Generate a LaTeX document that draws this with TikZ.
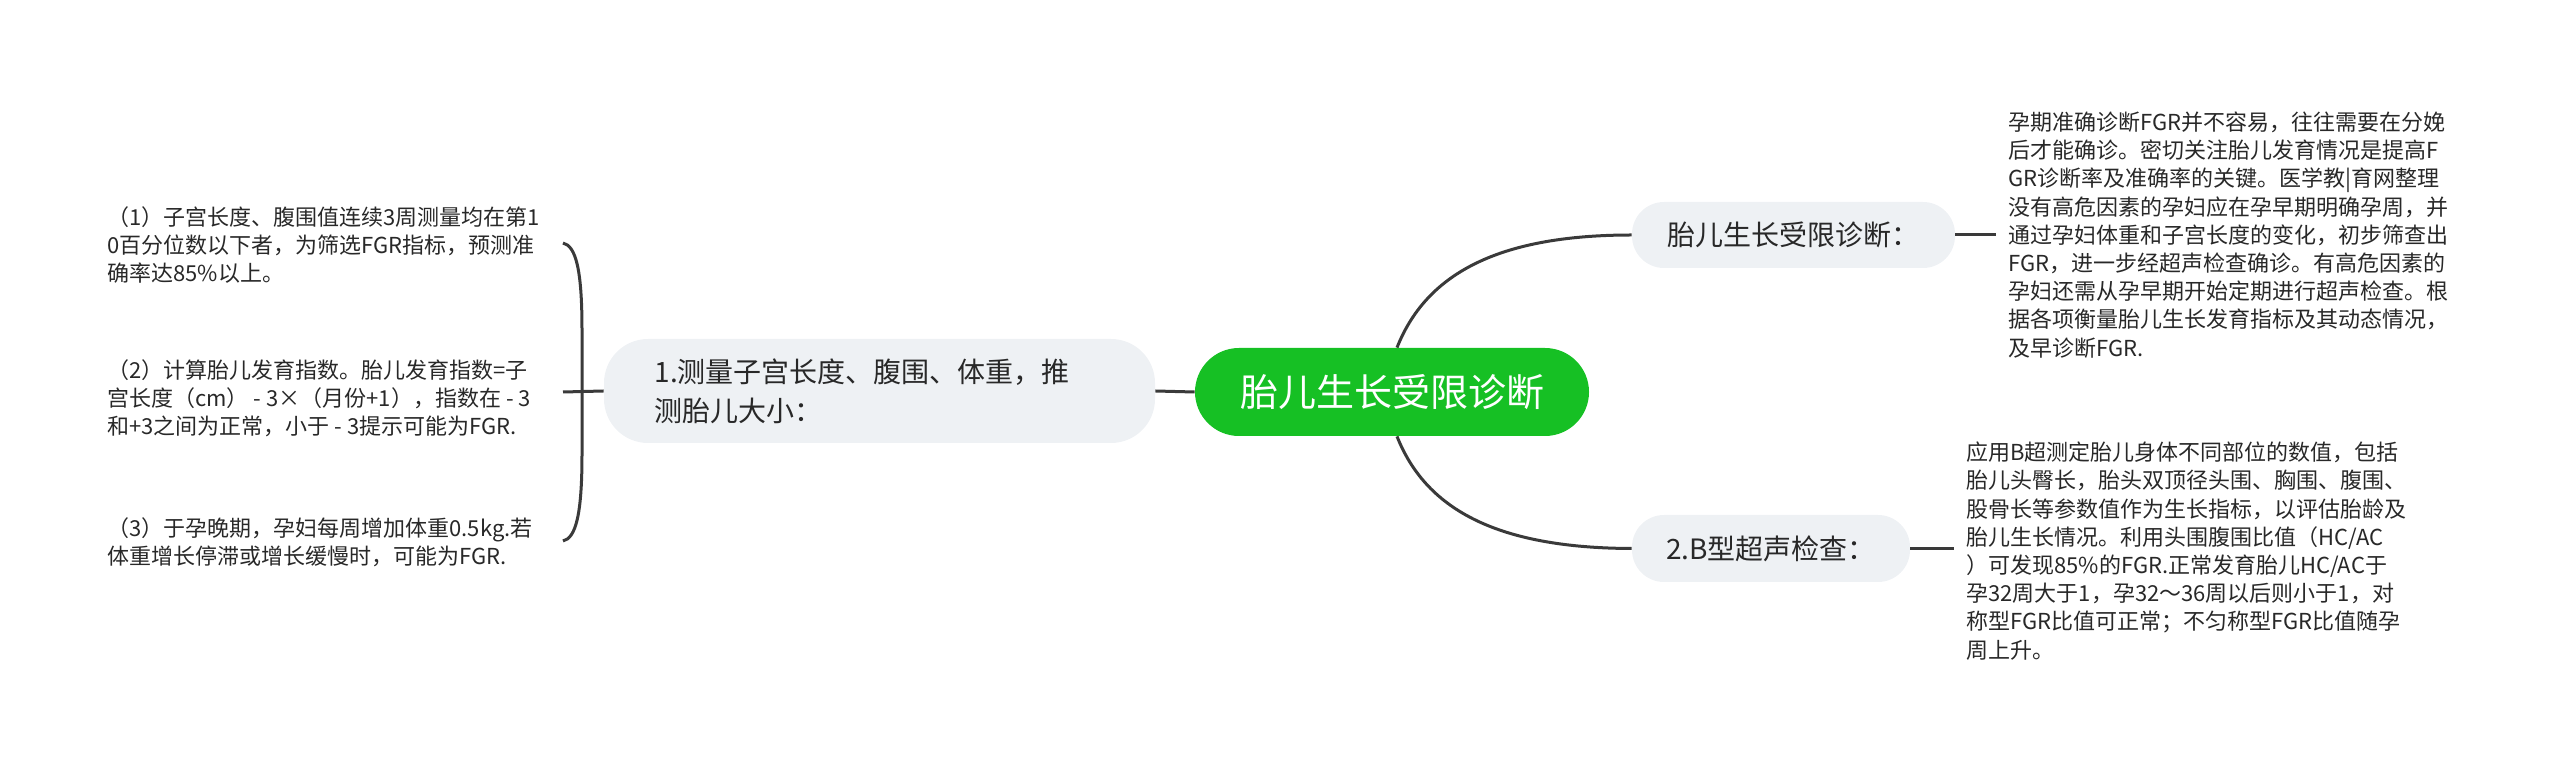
\documentclass[tikz,border=0pt]{standalone}
\usepackage{fontspec}
\setmainfont{Noto Sans CJK SC}
\usetikzlibrary{calc}
\definecolor{rootgreen}{RGB}{22,192,36}
\definecolor{topicgray}{RGB}{238,241,244}
\definecolor{linegray}{RGB}{58,58,58}
\definecolor{textdark}{RGB}{40,40,40}
\begin{document}
\begin{tikzpicture}[x=0.5pt,y=-0.5pt,
    link/.style={draw=linegray,line width=1.5pt},
    topic/.style={fill=topicgray,rounded corners=16pt,text=textdark,inner sep=0pt,
        font=\fontsize{14pt}{19.5pt}\selectfont},
    note/.style={text=textdark,align=left,inner xsep=6pt,inner ysep=0pt,
        font=\fontsize{11pt}{14.1pt}\selectfont}]
    \useasboundingbox (0,0) rectangle (2560,769);

    % central topic
    \node[fill=rootgreen,rounded corners=22pt,text=white,inner sep=0pt,
        minimum width=197pt,minimum height=44pt,
        font=\fontsize{19pt}{23pt}\selectfont] (root) at (1392,392) {胎儿生长受限诊断};

    % right branches
    \node[topic,minimum width=161.5pt,minimum height=33pt] (diag) at (1793.5,235) {胎儿生长受限诊断：};
    \node[topic,minimum width=139pt,minimum height=33.5pt] (bscan) at (1771,548.5) {2.B型超声检查：};
    \node[note,anchor=west] (diagnote) at (1996,235) {孕期准确诊断FGR并不容易，往往需要在分娩\\
        后才能确诊。密切关注胎儿发育情况是提高F\\
        GR诊断率及准确率的关键。医学教|育网整理\\
        没有高危因素的孕妇应在孕早期明确孕周，并\\
        通过孕妇体重和子宫长度的变化，初步筛查出\\
        FGR，进一步经超声检查确诊。有高危因素的\\
        孕妇还需从孕早期开始定期进行超声检查。根\\
        据各项衡量胎儿生长发育指标及其动态情况，\\
        及早诊断FGR.};
    \node[note,anchor=west] (bscannote) at (1954,551) {应用B超测定胎儿身体不同部位的数值，包括\\
        胎儿头臀长，胎头双顶径头围、胸围、腹围、\\
        股骨长等参数值作为生长指标，以评估胎龄及\\
        胎儿生长情况。利用头围腹围比值（HC/AC\\
        ）可发现85\%的FGR.正常发育胎儿HC/AC于\\
        孕32周大于1，孕32～36周以后则小于1，对\\
        称型FGR比值可正常；不匀称型FGR比值随孕\\
        周上升。};

    % left branch
    \node[topic,rounded corners=22pt,text width=225pt,inner xsep=25.25pt,
        minimum height=52pt,align=left] (measure) at (879.5,391) {1.测量子宫长度、腹围、体重，推\\测胎儿大小：};
    \node[note,anchor=west] (way1) at (95,245) {（1）子宫长度、腹围值连续3周测量均在第1\\
        0百分位数以下者，为筛选FGR指标，预测准\\
        确率达85\%以上。};
    \node[note,anchor=west] (way2) at (95,398) {（2）计算胎儿发育指数。胎儿发育指数=子\\
        宫长度（cm） - 3×（月份+1），指数在 - 3\\
        和+3之间为正常，小于 - 3提示可能为FGR.};
    \node[note,anchor=west] (way3) at (95,542) {（3）于孕晚期，孕妇每周增加体重0.5kg.若\\
        体重增长停滞或增长缓慢时，可能为FGR.};

    % connections
    \draw[link] (root.west) -- (measure.east);
    \draw[link] ([xshift=2.5pt]root.north) .. controls (1425,277) and (1493,235) .. (diag.west);
    \draw[link] ([xshift=2.5pt]root.south) .. controls (1425,507) and (1493,548) .. (bscan.west);
    \draw[link] (diag.east) -- (diagnote.west |- diag.east);
    \draw[link] (bscan.east) -- (bscannote.west |- bscan.east);

    % brace
    \coordinate (bracetop) at (563,243);
    \coordinate (bracebot) at (563,541);
    \coordinate (bracetip) at (563,392);
    \draw[link] (bracetop) .. controls (576,246) and (582,270) .. (582,330) -- (582,454)
        .. controls (582,514) and (576,538) .. (bracebot);
    \draw[link] (bracetip) -- (measure.west);
\end{tikzpicture}
\end{document}
